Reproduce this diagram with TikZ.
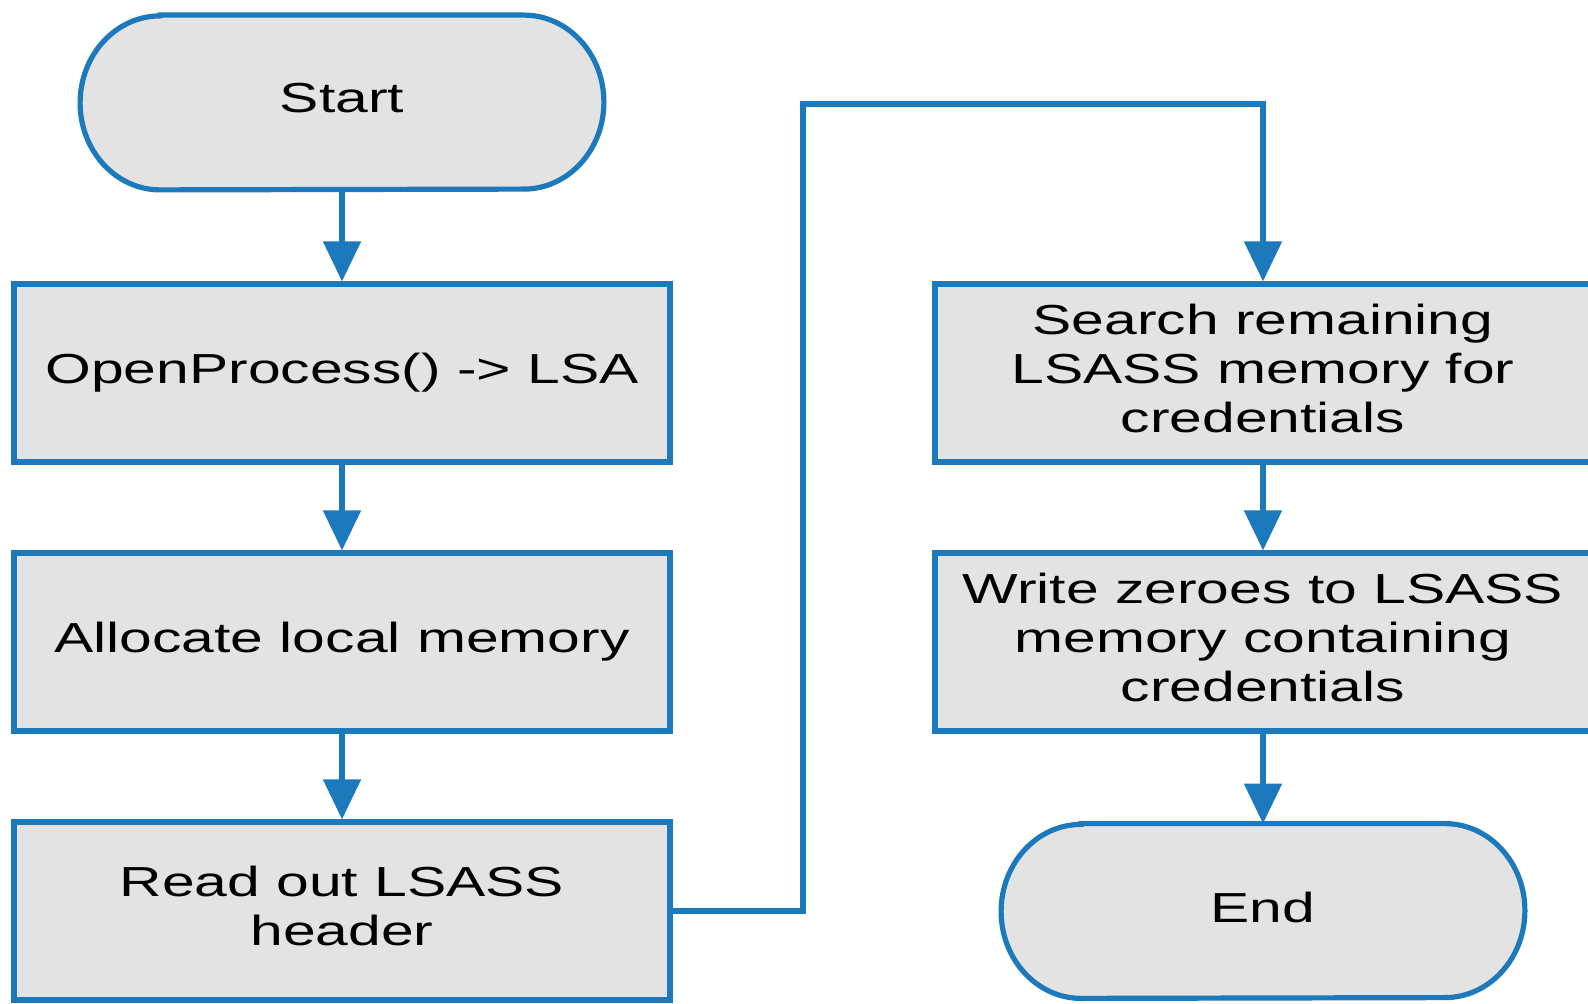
\documentclass[tikz,border=0pt]{standalone}
\usepackage{fontspec}
\setmainfont{Liberation Sans}[FakeStretch=1.4]
\usetikzlibrary{arrows.meta,calc}

\definecolor{flowblue}{HTML}{1B79BC}
\definecolor{boxfill}{HTML}{E3E3E3}

\tikzset{
  boxtext/.style={inner sep=0pt, align=center,
    font=\fontsize{21pt}{24.5pt}\selectfont},
  stepbox/.style={rectangle, draw=flowblue, fill=boxfill, line width=2.6pt,
    minimum width=328pt, minimum height=89pt, boxtext},
  termnode/.style={rectangle, minimum width=261.5pt, minimum height=87pt,
    boxtext},
  termline/.style={draw=flowblue, fill=boxfill, line width=2.6pt},
  raised/.style={label={[boxtext, yshift=2.3pt]center:{#1}}},
  flow/.style={draw=flowblue, line width=2.6pt,
    -{Triangle[width=18.5pt,length=20pt]}},
}

% stadium outline around a terminator node
\newcommand{\stadium}[1]{%
  \path[termline]
    ([xshift=40pt]#1.north west) -- ([xshift=-40pt]#1.north east)
    arc[start angle=90, end angle=-90, x radius=40pt, y radius=43.5pt]
    -- ([xshift=40pt]#1.south west)
    arc[start angle=270, end angle=90, x radius=40pt, y radius=43.5pt]
    -- cycle;}

\begin{document}
\begin{tikzpicture}[x=0.5pt, y=-0.5pt]
  \clip (0,0) rectangle (1588,1004);

  % left column
  \node[termnode] (start) at (342,102.5) {};
  \stadium{start}
  \node[boxtext, yshift=2pt] (startlbl) at (start) {Start};
  \node[stepbox] (b1) at (342,373) {OpenProcess() -> LSA};
  \node[stepbox] (b2) at (342,642) {Allocate local memory};
  \node[stepbox, raised={Read out LSASS\\header}] (b3) at (342,911) {};

  % right column
  \node[stepbox, raised={Search remaining\\LSASS memory for\\credentials}] (b4) at (1263,373) {};
  \node[stepbox, raised={Write zeroes to LSASS\\memory containing\\credentials}] (b5) at (1263,642) {};
  \node[termnode] (endn) at (1263,911) {};
  \stadium{endn}
  \node[boxtext, yshift=2pt] (endlbl) at (endn) {End};

  \coordinate (bend) at (803,104);

  % connectors
  \draw[flow] (start.south) -- (b1.north);
  \draw[flow] (b1.south) -- (b2.north);
  \draw[flow] (b2.south) -- (b3.north);
  \draw[flow] (b3.east) -| (bend) -| (b4.north);
  \draw[flow] (b4.south) -- (b5.north);
  \draw[flow] (b5.south) -- (endn.north);
\end{tikzpicture}
\end{document}
